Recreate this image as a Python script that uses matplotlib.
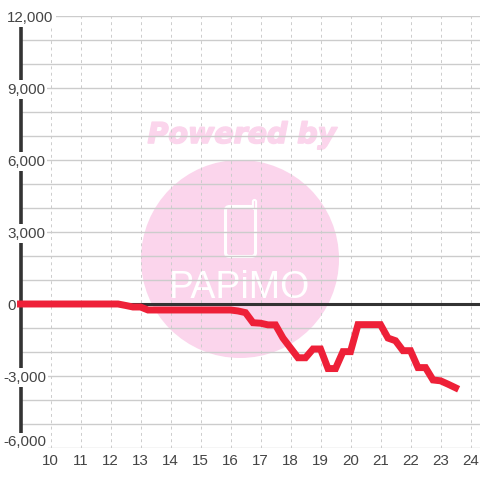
import matplotlib
matplotlib.use("Agg")
import matplotlib.pyplot as plt
from matplotlib.patches import Circle, FancyBboxPatch
import matplotlib.patheffects as pe

# 15 minute steps from 9:00 to 23:30
hours = [9 + i * 0.25 for i in range(59)]
values = [0] * 14 + [-60, -125, -125] + [-250] * 12 + [
    -290, -360, -780, -800, -870, -870, -1420, -1830, -2240, -2240,
    -1875, -1875, -2690, -2690, -1985, -1985, -860, -860, -860, -860,
    -1420, -1530, -1945, -1945, -2650, -2650, -3165, -3200, -3340, -3490,
]

x_ticks = list(range(10, 25))
y_grid = list(range(-6000, 13000, 1000))
y_labels = [12000, 9000, 6000, 3000, 0, -3000, -6000]

DARK = "#333333"
RED = "#ee2038"
PINK = "#fbd5ec"
GRID = "#cccccc"

plt.rcParams["font.family"] = ["Liberation Sans", "DejaVu Sans"]

fig = plt.figure(figsize=(4.8, 4.8), dpi=100, facecolor="white")

# watermark sits under the chart, in pixel coordinates
bg = fig.add_axes([0, 0, 1, 1])
bg.set_xlim(0, 480)
bg.set_ylim(480, 0)
bg.axis("off")
bg.add_patch(Circle((240, 259), 99, color=PINK, lw=0))
bg.text(242, 135, "Powered by", color=PINK, fontsize=20.5, fontweight="bold",
        fontstyle="italic", family="DejaVu Sans", ha="center", va="center",
        path_effects=[pe.withStroke(linewidth=1.2, foreground=PINK)])
bg.add_patch(FancyBboxPatch((225.5, 206.5), 30, 50, boxstyle="round,pad=0,rounding_size=4",
                            fc="none", ec="white", lw=2.2))
bg.plot([253.5, 253.5], [207, 201], color="white", lw=3.8, solid_capstyle="round")
bg.plot([253.5, 253.5], [207, 201], color=PINK, lw=0.8, solid_capstyle="round")
bg.text(240, 288, "PAPiMO", color="white", fontsize=27, family="Liberation Sans",
        ha="center", va="center")

ax = fig.add_axes([20.5 / 480, (480 - 448) / 480, 459.5 / 480, 432 / 480])
ax.patch.set_alpha(0)
ax.set_xlim(9, 9 + 459.5 / 30)
ax.set_ylim(-6000, 12000)
for s in ax.spines.values():
    s.set_visible(False)

ax.set_xticks(x_ticks)
ax.set_yticks(y_grid)
ax.set_yticklabels([])
ax.tick_params(length=0)
ax.tick_params(axis="x", labelsize=10.9, labelcolor="#444444", pad=4.5)
ax.grid(axis="y", color=GRID, lw=1.0, zorder=1)
ax.grid(axis="x", color=GRID, lw=0.7, ls=(0, (3, 3.5)), zorder=1)
ax.set_axisbelow(True)

ax.plot([9, 9], [-6000, 12000], color=DARK, lw=2.6, clip_on=False, zorder=2,
        solid_capstyle="butt")
ax.axhline(0, color=DARK, lw=2.2, zorder=2)

for v in y_labels:
    px = 3 if v < 0 else 7
    # bottom label is pushed up so it stays inside the plot
    dy = 4.3 if v == y_labels[-1] else -1.2
    ax.annotate(f"{v:,}", xy=(px, v), xycoords=("figure pixels", "data"), xytext=(0, dy),
                textcoords="offset points", fontsize=10.9, color="#444444", ha="left",
                va="center", zorder=3, annotation_clip=False,
                bbox=dict(fc="white", ec="none", pad=1.6))

ax.plot(hours, values, color=RED, lw=5.0, solid_joinstyle="miter",
        solid_capstyle="projecting", clip_on=False, zorder=4)

fig.savefig("out.png", dpi=100)
